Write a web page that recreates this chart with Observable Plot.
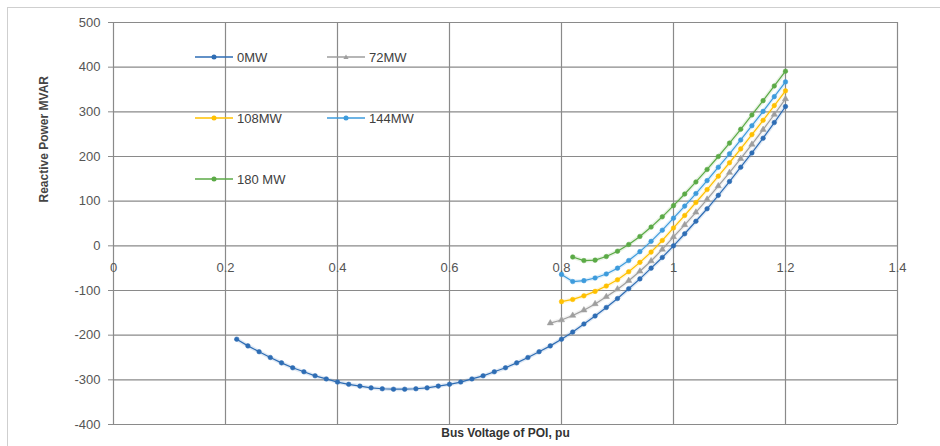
<!DOCTYPE html>
<html>
<head>
<meta charset="utf-8">
<script src="https://cdn.jsdelivr.net/npm/d3@7"></script>
<script src="https://cdn.jsdelivr.net/npm/@observablehq/plot@0.6"></script>
<style>
  html, body { margin: 0; padding: 0; background: #fff; }
  #wrap { position: relative; width: 940px; height: 446px; font-family: "Liberation Sans", Arial, sans-serif; }
  #frame { position: absolute; left: 7px; top: 7px; width: 940px; height: 446px;
           border-left: 1px solid #cfcfcf; border-top: 1px solid #cfcfcf; pointer-events: none; }
  .legend-item { position: absolute; display: flex; align-items: center; font-size: 13px; color: #404040; }
  .legend-item svg { display: block; margin-right: 4px; }
</style>
</head>
<body>
<div id="wrap"><div id="frame"></div></div>
<script>
// Bus voltage at the point of interconnection (pu), sampled every 0.02 pu
const busVoltage = [0.22, 0.24, 0.26, 0.28, 0.30, 0.32, 0.34, 0.36, 0.38, 0.40,
  0.42, 0.44, 0.46, 0.48, 0.50, 0.52, 0.54, 0.56, 0.58, 0.60,
  0.62, 0.64, 0.66, 0.68, 0.70, 0.72, 0.74, 0.76, 0.78, 0.80,
  0.82, 0.84, 0.86, 0.88, 0.90, 0.92, 0.94, 0.96, 0.98, 1.00,
  1.02, 1.04, 1.06, 1.08, 1.10, 1.12, 1.14, 1.16, 1.18, 1.20];

// Reactive power (MVAR) per active-power level; each series ends at 1.20 pu
const q0MW = [-209, -224, -237, -250, -262, -273, -282, -291, -298, -305,
  -310, -314, -318, -320, -321, -321, -320, -318, -314, -310,
  -305, -298, -291, -282, -273, -262, -250, -237, -224, -209,
  -193, -175, -157, -138, -118, -96, -74, -50, -26, 0,
  27, 55, 83, 113, 144, 176, 208, 241, 276, 312];
const q72MW = [-173, -166, -156, -144, -130, -114, -97, -78, -57, -34, -8,
  20, 47, 75, 104, 134, 164, 195, 227, 260, 294, 329];
const q108MW = [-125, -120, -112, -102, -90, -76, -58, -37, -14, 12,
  40, 68, 97, 126, 156, 186, 217, 249, 281, 314, 347];
const q144MW = [-64, -80, -78, -72, -63, -50, -33, -13, 10, 35,
  62, 89, 117, 146, 176, 206, 237, 269, 301, 334, 367];
const q180MW = [-25, -33, -32, -24, -12, 3, 21, 42, 65,
  90, 116, 143, 171, 200, 230, 261, 293, 325, 358, 391];

const seriesNames = ["0MW", "72MW", "108MW", "144MW", "180 MW"];
const seriesColors = ["#2E6DB4", "#9E9E9E", "#FFC000", "#3D9BDC", "#5BAA46"];
const seriesSymbols = ["circle", "triangle", "circle", "circle", "circle"];
const seriesValues = [q0MW, q72MW, q108MW, q144MW, q180MW];

const xTicks = [0, 0.2, 0.4, 0.6, 0.8, 1.0, 1.2, 1.4];
const xTickLabels = ["0", "0.2", "0.4", "0.6", "0.8", "1", "1.2", "1.4"];
const yTicks = [-400, -300, -200, -100, 0, 100, 200, 300, 400, 500];

// Long-format rows: a series' voltages are the tail of busVoltage
const rows = seriesValues.flatMap((vals, i) => {
  const v = busVoltage.slice(busVoltage.length - vals.length);
  return vals.map((q, j) => ({series: seriesNames[i], v: v[j], q}));
});

const chart = Plot.plot({
  width: 940,
  height: 446,
  marginLeft: 113,
  marginRight: 43,
  marginTop: 22,
  marginBottom: 22,
  style: {fontFamily: "'Liberation Sans', Arial, sans-serif", fontSize: "13px", background: "transparent", overflow: "visible"},
  x: {domain: [0, 1.4], axis: null},
  y: {domain: [-400, 500]},
  color: {domain: seriesNames, range: seriesColors},
  symbol: {domain: seriesNames, range: seriesSymbols},
  marks: [
    Plot.gridX(xTicks, {stroke: "#8a8a8a", strokeOpacity: 1, strokeWidth: 1.2}),
    Plot.gridY(yTicks, {stroke: "#8a8a8a", strokeOpacity: 1, strokeWidth: 1.2}),
    Plot.axisY(yTicks, {tickSize: 5, tickPadding: 8, stroke: "#8a8a8a", fill: "#555", fontSize: 13, label: null, tickFormat: d => String(d)}),
    // x tick labels sit just under the zero line
    Plot.text(xTicks, {x: d => d, y: 0, dy: 22, text: (d, i) => xTickLabels[i], fill: "#555", fontSize: 13}),
    Plot.line(rows, {x: "v", y: "q", z: "series", stroke: "series", strokeWidth: 4, strokeOpacity: 0.15}),
    Plot.line(rows, {x: "v", y: "q", z: "series", stroke: "series", strokeWidth: 1.2}),
    Plot.dot(rows, {x: "v", y: "q", fill: "series", stroke: "series", symbol: "series", r: 2.3, strokeWidth: 0.5}),
    Plot.text(["Bus Voltage of POI, pu"], {frameAnchor: "bottom", dy: 12, fill: "#333", fontWeight: "bold", fontSize: 12, text: d => d}),
    Plot.text(["Reactive Power MVAR"], {frameAnchor: "left", dx: -69, dy: -21, rotate: -90, fill: "#444", fontWeight: "bold", fontSize: 12, text: d => d})
  ]
});

const wrap = document.getElementById("wrap");
wrap.insertBefore(chart, wrap.firstChild);

// Legend entries placed inside the plotting area
const legendPos = [[195, 57], [327, 57], [195, 118], [327, 118], [195, 179]];
seriesNames.forEach((name, i) => {
  const item = document.createElement("div");
  item.className = "legend-item";
  item.style.left = legendPos[i][0] + "px";
  item.style.top = (legendPos[i][1] - 8) + "px";
  item.style.height = "16px";
  const c = seriesColors[i];
  const marker = seriesSymbols[i] === "triangle"
    ? `<path d="M19,5.5 L21.6,10 L16.4,10 Z" fill="${c}"/>`
    : `<circle cx="19" cy="8" r="2.5" fill="${c}"/>`;
  item.innerHTML = `<svg width="38" height="16"><line x1="0" x2="38" y1="8" y2="8" stroke="${c}" stroke-width="1.3"/>${marker}</svg><span>${name}</span>`;
  wrap.appendChild(item);
});
</script>
</body>
</html>
